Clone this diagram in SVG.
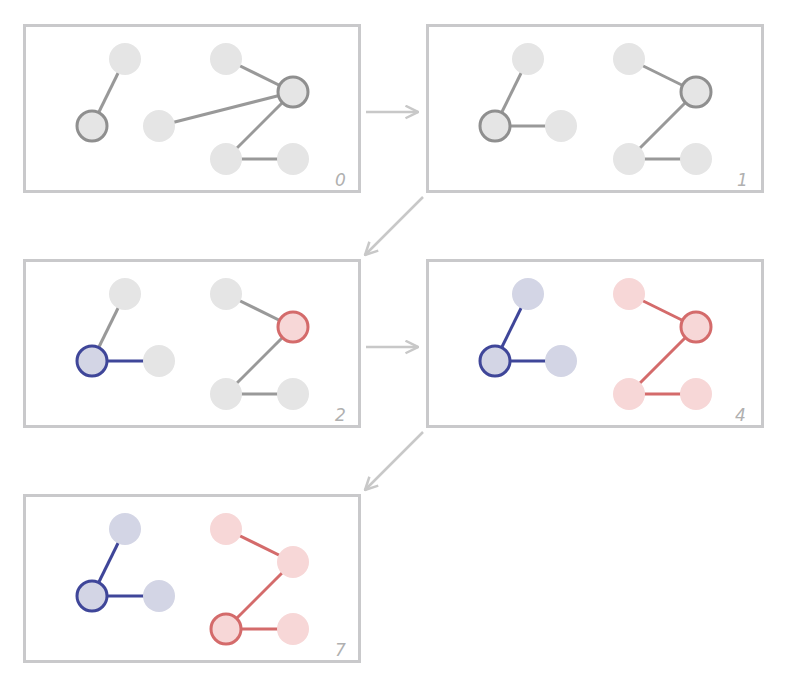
<svg xmlns="http://www.w3.org/2000/svg" width="790" height="674" viewBox="0 0 790 674">
  <defs>
    <style>
      .frame { fill: #ffffff; stroke: #c9c9cb; stroke-width: 3; }
      .step { font-family: "DejaVu Sans", sans-serif; font-size: 17px; font-style: italic; font-weight: 300; fill: #b0b0b0; }
      .n-gray { fill: #e5e5e5; }
      .n-gray-b { fill: #e5e5e5; stroke: #8f8f8f; stroke-width: 3; }
      .n-blue { fill: #d3d5e5; }
      .n-blue-b { fill: #d3d5e5; stroke: #3f4699; stroke-width: 3; }
      .n-red { fill: #f7d7d7; }
      .n-red-b { fill: #f7d7d7; stroke: #d46b6b; stroke-width: 3; }
      .e-gray { stroke: #999999; stroke-width: 3; fill: none; }
      .e-blue { stroke: #3f4699; stroke-width: 3; fill: none; }
      .e-red { stroke: #d46b6b; stroke-width: 3; fill: none; }
      .flow { stroke: #c8c8c8; stroke-width: 2.5; fill: none; marker-end: url(#head); }
    </style>
    <marker id="head" viewBox="0 0 12 12" refX="11" refY="6" markerWidth="6" markerHeight="6" orient="auto" markerUnits="strokeWidth">
      <path d="M1,1 L11,6 L1,11" fill="none" stroke="#c8c8c8" stroke-width="2"/>
    </marker>
  </defs>

  <!-- frames -->
  <g id="frames">
    <rect class="frame" x="24.5" y="25.5" width="335" height="166"/>
    <rect class="frame" x="427.5" y="25.5" width="335" height="166"/>
    <rect class="frame" x="24.5" y="260.5" width="335" height="166"/>
    <rect class="frame" x="427.5" y="260.5" width="335" height="166"/>
    <rect class="frame" x="24.5" y="495.5" width="335" height="166"/>
  </g>

  <!-- arrows between steps -->
  <g id="flow">
    <line class="flow" x1="366" y1="112" x2="418" y2="112"/>
    <line class="flow" x1="423" y1="197" x2="365" y2="255"/>
    <line class="flow" x1="366" y1="347" x2="418" y2="347"/>
    <line class="flow" x1="423" y1="432" x2="365" y2="490"/>
  </g>

  <!-- connectors -->
  <g id="connectors">
    <!-- step 0 -->
    <line class="e-gray" x1="92" y1="126" x2="125" y2="59"/>
    <line class="e-gray" x1="159" y1="126" x2="293" y2="92"/>
    <line class="e-gray" x1="226" y1="59" x2="293" y2="92"/>
    <line class="e-gray" x1="293" y1="92" x2="226" y2="159"/>
    <line class="e-gray" x1="226" y1="159" x2="293" y2="159"/>
    <!-- step 1 -->
    <line class="e-gray" x1="495" y1="126" x2="528" y2="59"/>
    <line class="e-gray" x1="495" y1="126" x2="561" y2="126"/>
    <line class="e-gray" x1="629" y1="59" x2="696" y2="92"/>
    <line class="e-gray" x1="696" y1="92" x2="629" y2="159"/>
    <line class="e-gray" x1="629" y1="159" x2="696" y2="159"/>
    <!-- step 2 -->
    <line class="e-gray" x1="92" y1="361" x2="125" y2="294"/>
    <line class="e-blue" x1="92" y1="361" x2="159" y2="361"/>
    <line class="e-gray" x1="226" y1="294" x2="293" y2="327"/>
    <line class="e-gray" x1="293" y1="327" x2="226" y2="394"/>
    <line class="e-gray" x1="226" y1="394" x2="293" y2="394"/>
    <!-- step 4 -->
    <line class="e-blue" x1="495" y1="361" x2="528" y2="294"/>
    <line class="e-blue" x1="495" y1="361" x2="561" y2="361"/>
    <line class="e-red" x1="629" y1="294" x2="696" y2="327"/>
    <line class="e-red" x1="696" y1="327" x2="629" y2="394"/>
    <line class="e-red" x1="629" y1="394" x2="696" y2="394"/>
    <!-- step 7 -->
    <line class="e-blue" x1="92" y1="596" x2="125" y2="529"/>
    <line class="e-blue" x1="92" y1="596" x2="159" y2="596"/>
    <line class="e-red" x1="226" y1="529" x2="293" y2="562"/>
    <line class="e-red" x1="293" y1="562" x2="226" y2="629"/>
    <line class="e-red" x1="226" y1="629" x2="293" y2="629"/>
  </g>

  <!-- step 0 -->
  <g id="step0">
    <circle class="n-gray" cx="125" cy="59" r="16"/>
    <circle class="n-gray-b" cx="92" cy="126" r="15"/>
    <circle class="n-gray" cx="159" cy="126" r="16"/>
    <circle class="n-gray" cx="226" cy="59" r="16"/>
    <circle class="n-gray-b" cx="293" cy="92" r="15"/>
    <circle class="n-gray" cx="226" cy="159" r="16"/>
    <circle class="n-gray" cx="293" cy="159" r="16"/>
    <text class="step" x="335" y="186">0</text>
  </g>

  <!-- step 1 -->
  <g id="step1">
    <circle class="n-gray" cx="528" cy="59" r="16"/>
    <circle class="n-gray-b" cx="495" cy="126" r="15"/>
    <circle class="n-gray" cx="561" cy="126" r="16"/>
    <circle class="n-gray" cx="629" cy="59" r="16"/>
    <circle class="n-gray-b" cx="696" cy="92" r="15"/>
    <circle class="n-gray" cx="629" cy="159" r="16"/>
    <circle class="n-gray" cx="696" cy="159" r="16"/>
    <text class="step" x="737" y="186">1</text>
  </g>

  <!-- step 2 -->
  <g id="step2">
    <circle class="n-gray" cx="125" cy="294" r="16"/>
    <circle class="n-blue-b" cx="92" cy="361" r="15"/>
    <circle class="n-gray" cx="159" cy="361" r="16"/>
    <circle class="n-gray" cx="226" cy="294" r="16"/>
    <circle class="n-red-b" cx="293" cy="327" r="15"/>
    <circle class="n-gray" cx="226" cy="394" r="16"/>
    <circle class="n-gray" cx="293" cy="394" r="16"/>
    <text class="step" x="335" y="421">2</text>
  </g>

  <!-- step 4 -->
  <g id="step4">
    <circle class="n-blue" cx="528" cy="294" r="16"/>
    <circle class="n-blue-b" cx="495" cy="361" r="15"/>
    <circle class="n-blue" cx="561" cy="361" r="16"/>
    <circle class="n-red" cx="629" cy="294" r="16"/>
    <circle class="n-red-b" cx="696" cy="327" r="15"/>
    <circle class="n-red" cx="629" cy="394" r="16"/>
    <circle class="n-red" cx="696" cy="394" r="16"/>
    <text class="step" x="735" y="421">4</text>
  </g>

  <!-- step 7 -->
  <g id="step7">
    <circle class="n-blue" cx="125" cy="529" r="16"/>
    <circle class="n-blue-b" cx="92" cy="596" r="15"/>
    <circle class="n-blue" cx="159" cy="596" r="16"/>
    <circle class="n-red" cx="226" cy="529" r="16"/>
    <circle class="n-red" cx="293" cy="562" r="16"/>
    <circle class="n-red-b" cx="226" cy="629" r="15"/>
    <circle class="n-red" cx="293" cy="629" r="16"/>
    <text class="step" x="335" y="656">7</text>
  </g>
</svg>
